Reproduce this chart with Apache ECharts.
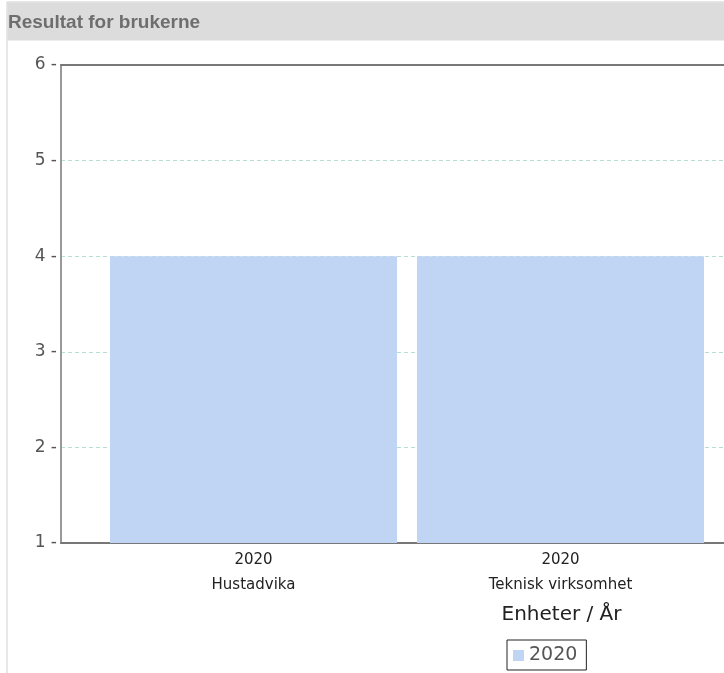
<!DOCTYPE html>
<html>
<head>
<meta charset="utf-8">
<script src="https://cdn.jsdelivr.net/npm/echarts@6/dist/echarts.min.js"></script>
<style>
  html, body { margin: 0; padding: 0; background: #fff; }
  #chart { width: 724px; height: 673px; }
</style>
</head>
<body>
<div id="chart"></div>
<script>
// Units and the year each bar belongs to
const categories = ['Hustadvika', 'Teknisk virksomhet'];
const years = ['2020', '2020'];
// Result per unit for 2020
const values2020 = [4, 4];
// Value axis range
const yMin = 1;
const yMax = 6;
const yStep = 1;

const chart = echarts.init(document.getElementById('chart'), null, { renderer: 'canvas' });

const barColor = '#c0d4f4';
const fontFamily = 'DejaVu Sans, sans-serif';

chart.setOption({
  animation: false,
  backgroundColor: '#fff',
  graphic: [
    // panel frame and heading strip
    { type: 'rect', shape: { x: 7, y: 2, width: 730, height: 680 },
      style: { fill: '#fff', stroke: '#cfcfcf', lineWidth: 1 }, z: -10 },
    { type: 'rect', shape: { x: 7.5, y: 2.5, width: 730, height: 38 },
      style: { fill: '#dcdcdc', stroke: null }, z: -9 },
    { type: 'text', left: 8, top: 13,
      style: { text: 'Resultat for brukerne', fill: '#6e6e6e',
               font: 'bold 19px "Liberation Sans", Arial, sans-serif' } }
  ],
  grid: [
    // frame of the plot area (axes, grid lines); it runs on past the right edge
    { left: 61, top: 65, right: -336, height: 478, containLabel: false },
    // band where the bars sit
    { left: 100, top: 65, width: 614, height: 478, containLabel: false }
  ],
  legend: {
    left: 507, top: 640,
    padding: [6, 9, 5, 6],
    borderColor: '#222', borderWidth: 1,
    itemWidth: 11, itemHeight: 11, itemGap: 5,
    icon: 'rect',
    textStyle: { fontSize: 19, color: '#555', fontFamily: fontFamily },
    data: ['2020']
  },
  xAxis: [
    {
      gridIndex: 0, type: 'value', min: 0, max: 1, position: 'bottom',
      name: 'Enheter / År', nameLocation: 'middle', nameGap: 62,
      // the frame is cut at the window edge, so the title is pushed to the full plot's centre
      nameTextStyle: { fontSize: 20, color: '#222', fontFamily: fontFamily,
                       padding: [0, 0, 0, 338] },
      axisLine: { show: true, lineStyle: { color: '#777', width: 2 } },
      axisTick: { show: false }, axisLabel: { show: false }, splitLine: { show: false }
    },
    {
      gridIndex: 0, type: 'value', min: 0, max: 1, position: 'top',
      axisLine: { show: true, lineStyle: { color: '#777', width: 2, type: [3, 1] } },
      axisTick: { show: false }, axisLabel: { show: false }, splitLine: { show: false }
    },
    {
      gridIndex: 1, type: 'category', data: categories,
      axisLine: { show: false }, axisTick: { show: false },
      axisLabel: {
        margin: 5,
        formatter: (v, i) => '{y|' + years[i] + '}\n{n|' + v + '}',
        rich: {
          y: { fontSize: 15, color: '#222', fontFamily: fontFamily, lineHeight: 25 },
          n: { fontSize: 15, color: '#222', fontFamily: fontFamily, lineHeight: 25 }
        }
      }
    }
  ],
  yAxis: [
    {
      gridIndex: 0, type: 'value', min: yMin, max: yMax, interval: yStep,
      axisLine: { show: true, lineStyle: { color: '#999', width: 2 } },
      axisTick: { show: false },
      axisLabel: { margin: 4, fontSize: 17, color: '#555', fontFamily: fontFamily,
                   formatter: v => v + ' -' },
      splitLine: { show: true, lineStyle: { color: '#b6ded6', type: [4, 3], width: 1 } }
    },
    {
      gridIndex: 1, type: 'value', min: yMin, max: yMax, interval: yStep, show: false,
      splitLine: { show: false }
    }
  ],
  series: [
    {
      name: '2020', type: 'bar', xAxisIndex: 2, yAxisIndex: 1,
      data: values2020,
      barCategoryGap: '6.5%',
      itemStyle: { color: barColor }
    }
  ]
});
</script>
</body>
</html>
